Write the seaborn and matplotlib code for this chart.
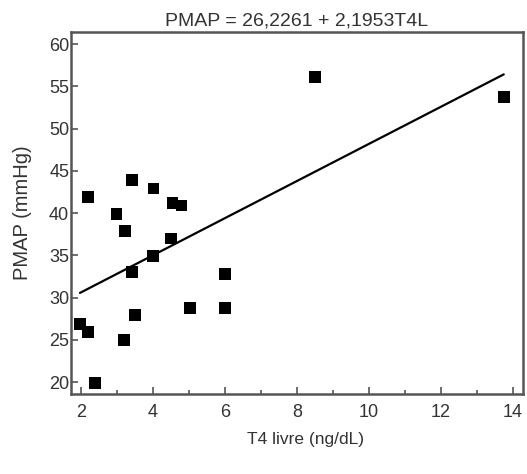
import matplotlib
matplotlib.use("Agg")
import matplotlib.pyplot as plt
from matplotlib.ticker import MultipleLocator
import seaborn as sns
import numpy as np
import pandas as pd

# Data
t4_livre = [1.97, 2.19, 2.2, 2.39, 2.99, 3.22, 3.2, 3.41, 3.41, 3.5,
            4.01, 4.0, 4.5, 4.54, 4.79, 5.03, 6.0, 6.0, 8.5, 13.75]
pmap = [26.9, 25.9, 41.9, 19.9, 39.9, 37.9, 25.0, 43.9, 33.0, 27.9,
        42.9, 34.9, 37.0, 41.2, 40.9, 28.8, 32.8, 28.8, 56.1, 53.7]

intercept = 26.2261
slope = 2.1953

title = "PMAP = 26,2261 + 2,1953T4L"
xlabel = "T4 livre (ng/dL)"
ylabel = "PMAP (mmHg)"
xticks = [2, 4, 6, 8, 10, 12, 14]
yticks = [20, 25, 30, 35, 40, 45, 50, 55, 60]

sns.set_style("ticks")
plt.rcParams["font.family"] = ["Liberation Sans", "DejaVu Sans"]

df = pd.DataFrame({"x": t4_livre, "y": pmap})

fig = plt.figure(figsize=(5.27, 4.74), dpi=100)
ax = fig.add_axes([0.134, 0.169, 0.858, 0.763])

sns.scatterplot(data=df, x="x", y="y", marker="s", s=70, color="black",
                edgecolor="none", linewidth=0, ax=ax, zorder=3)

xl = np.array([min(t4_livre), max(t4_livre)])
line_df = pd.DataFrame({"x": xl, "y": intercept + slope * xl})
sns.lineplot(data=line_df, x="x", y="y", color="black", linewidth=1.6, ax=ax)

ax.set_xlim(1.71, 14.28)
ax.set_ylim(18.6, 61.4)
ax.set_xticks(xticks)
ax.set_yticks(yticks)
ax.xaxis.set_minor_locator(MultipleLocator(1))

text_color = "#333333"
ax.tick_params(axis="both", which="major", direction="in", length=5,
               width=1.2, color="#555555", labelsize=13, labelcolor=text_color)
ax.tick_params(axis="y", which="major", pad=1)
ax.tick_params(axis="x", which="major", pad=7)
ax.tick_params(axis="x", which="minor", direction="in", length=3,
               width=1.2, color="#555555")

for side in ["left", "bottom", "right", "top"]:
    ax.spines[side].set_color("#555555")
    ax.spines[side].set_linewidth(1.8)
    ax.spines[side].set_visible(True)

ax.set_title(title, fontsize=14, color=text_color, pad=5)
ax.set_xlabel(xlabel, fontsize=12.5, color=text_color)
ax.xaxis.set_label_coords(0.52, -0.105)
ax.set_ylabel(ylabel, fontsize=14.5, color=text_color, labelpad=12)

fig.savefig("out.png", dpi=100)
